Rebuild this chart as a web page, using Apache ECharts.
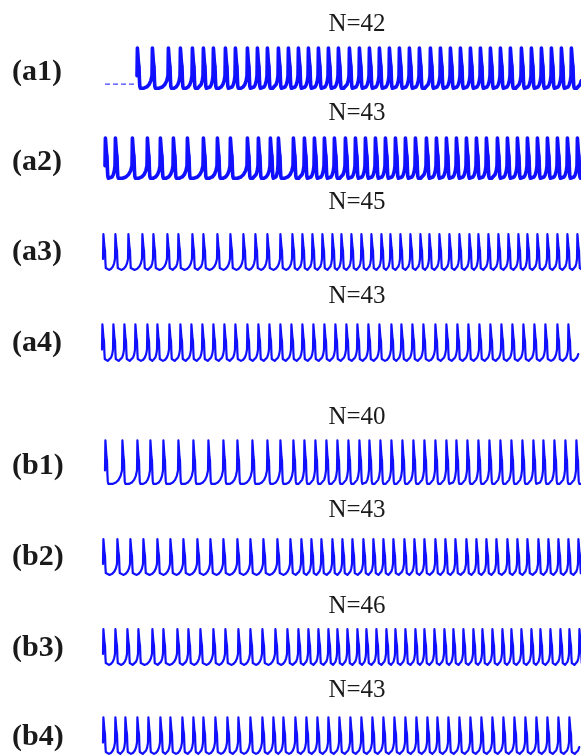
<!DOCTYPE html>
<html>
<head>
<meta charset="utf-8">
<script src="https://cdn.jsdelivr.net/npm/echarts@6/dist/echarts.min.js"></script>
<style>
  html, body { margin: 0; padding: 0; background: #fff; }
  #chart { width: 581px; height: 756px; }
</style>
</head>
<body>
<div id="chart"></div>
<script>
// Spike onset times (ms) for each recorded trace, window 0–480 ms.
const spikesA1 = [36,51,67,79,91,102,112,124,134,146,156,166,177,187,197,
  207,217,227,237,248,258,268,278,288,298,308,318,329,339,349,359,369,379,389,399,
  409,420,430,440,450,460,470];
const spikesA2 = [4,14,31,46,59,72,86,102,116,129,146,157,169,177,192,
  203,213,223,233,244,254,264,274,284,294,304,314,325,335,345,355,365,375,
  385,396,406,416,426,436,446,456,466,476];
const spikesA3 = [2,14,27,41,52,66,77,91,102,116,129,142,154,166,179,191,
  201,211,221,231,240,250,260,270,280,289,299,309,319,328,338,348,358,368,377,387,
  397,407,417,426,436,446,456,466,476];
const spikesA4 = [1,12,23,34,46,56,68,79,90,101,112,123,134,146,157,168,179,190,201,212,
  223,234,245,256,267,278,290,300,311,322,334,345,356,367,378,389,400,411,422,433,444,456,467];
const spikesB1 = [4,21,36,49,62,77,92,107,122,136,151,166,179,192,
  203,214,225,236,247,258,268,279,290,301,312,323,334,345,355,366,377,388,399,410,
  421,432,442,453,464,475];
const spikesB2 = [2,16,29,42,56,69,82,96,109,122,136,149,162,176,189,
  200,210,220,231,241,251,262,272,282,292,303,313,323,334,344,354,365,375,385,395,
  406,416,426,437,447,457,467,477];
const spikesB3 = [2,14,26,37,51,62,76,87,99,112,124,137,149,161,174,186,197,
  207,217,227,236,246,256,265,275,285,294,304,314,323,333,343,352,362,372,381,391,
  401,410,420,430,439,449,459,468,478];
const spikesB4 = [2,14,24,36,47,59,69,81,92,102,114,126,137,149,161,172,182,194,
  205,216,227,238,249,260,271,282,293,304,315,326,336,347,358,369,380,391,402,413,
  424,435,446,457,468];

const panelLabels = ['(a1)','(a2)','(a3)','(a4)','(b1)','(b2)','(b3)','(b4)'];
const panelSpikes = [spikesA1, spikesA2, spikesA3, spikesA4, spikesB1, spikesB2, spikesB3, spikesB4];

// Normalised action-potential shape: [ms after onset, membrane level 0..1]
const apShape = [[0,0.3],[0.4,0.97],[0.7,1.0],[1.1,0.97],[1.5,0.6],[2.0,0.53],[2.4,0.22],
  [2.8,0.05],[3.4,0.0]];
// Slow depolarisation between spikes: [fraction of gap, level]
const recovery = [[0.3,0.0],[0.55,0.03],[0.75,0.09],[0.9,0.18]];
const restLevel = 0.1;
// Quiet pre-stimulus stretch of trace a1 (ms)
const a1Baseline = [[4, restLevel],[34, restLevel]];

function buildTrace(spikes) {
  const pts = [];
  for (let i = 0; i < spikes.length; i++) {
    const t0 = spikes[i];
    apShape.forEach(p => pts.push([t0 + p[0], p[1]]));
    const end = t0 + apShape[apShape.length - 1][0];
    const next = i + 1 < spikes.length ? spikes[i + 1] : t0 + 11;
    const gap = next - end;
    recovery.forEach(r => pts.push([end + gap * r[0], r[1]]));
  }
  return pts;
}

// Layout of each row: trace top/bottom in px, line width, title centre y, label centre y
const rows = [
  {top: 45, bottom: 90, lw: 3.6, titleY: 24, labelY: 72},
  {top: 135, bottom: 180, lw: 3.6, titleY: 113, labelY: 162},
  {top: 232, bottom: 271, lw: 2.2, titleY: 202, labelY: 252},
  {top: 322, bottom: 362, lw: 2.2, titleY: 296, labelY: 343},
  {top: 438, bottom: 485, lw: 2.2, titleY: 417, labelY: 466},
  {top: 537, bottom: 576, lw: 2.2, titleY: 510, labelY: 557},
  {top: 627, bottom: 666, lw: 2.2, titleY: 606, labelY: 648},
  {top: 715, bottom: 755, lw: 2.2, titleY: 690, labelY: 737}
];

const BLUE = '#1010ff';
const grids = [], xAxes = [], yAxes = [], series = [], graphics = [];

rows.forEach((r, i) => {
  const h = r.lw / 2;
  grids.push({left: 101, right: 0, top: r.top + h, height: (r.bottom - r.top) - r.lw});
  xAxes.push({type: 'value', gridIndex: i, min: 0, max: 480, show: false});
  yAxes.push({type: 'value', gridIndex: i, min: 0, max: 1, show: false});
  series.push({
    type: 'line', xAxisIndex: i, yAxisIndex: i,
    data: buildTrace(panelSpikes[i]),
    showSymbol: false, smooth: false, clip: true,
    lineStyle: {color: BLUE, width: r.lw, join: 'round', cap: 'round'}
  });
  graphics.push({
    type: 'text', x: 357, y: r.titleY,
    style: {text: 'N=' + panelSpikes[i].length, font: '25px "Liberation Serif"',
            fill: '#1a1a1a', align: 'center', verticalAlign: 'middle'}
  });
  graphics.push({
    type: 'text', x: 12, y: r.labelY,
    style: {text: panelLabels[i], font: 'bold 30px "Liberation Serif"',
            fill: '#1a1a1a', align: 'left', verticalAlign: 'middle'}
  });
});

series.push({
  type: 'line', xAxisIndex: 0, yAxisIndex: 0, data: a1Baseline,
  showSymbol: false,
  lineStyle: {color: BLUE, width: 1.2, type: [5, 3], opacity: 0.8}
});

const chart = echarts.init(document.getElementById('chart'), null, {renderer: 'canvas'});
chart.setOption({
  animation: false,
  backgroundColor: '#ffffff',
  grid: grids, xAxis: xAxes, yAxis: yAxes, series: series,
  graphic: graphics
});
</script>
</body>
</html>
